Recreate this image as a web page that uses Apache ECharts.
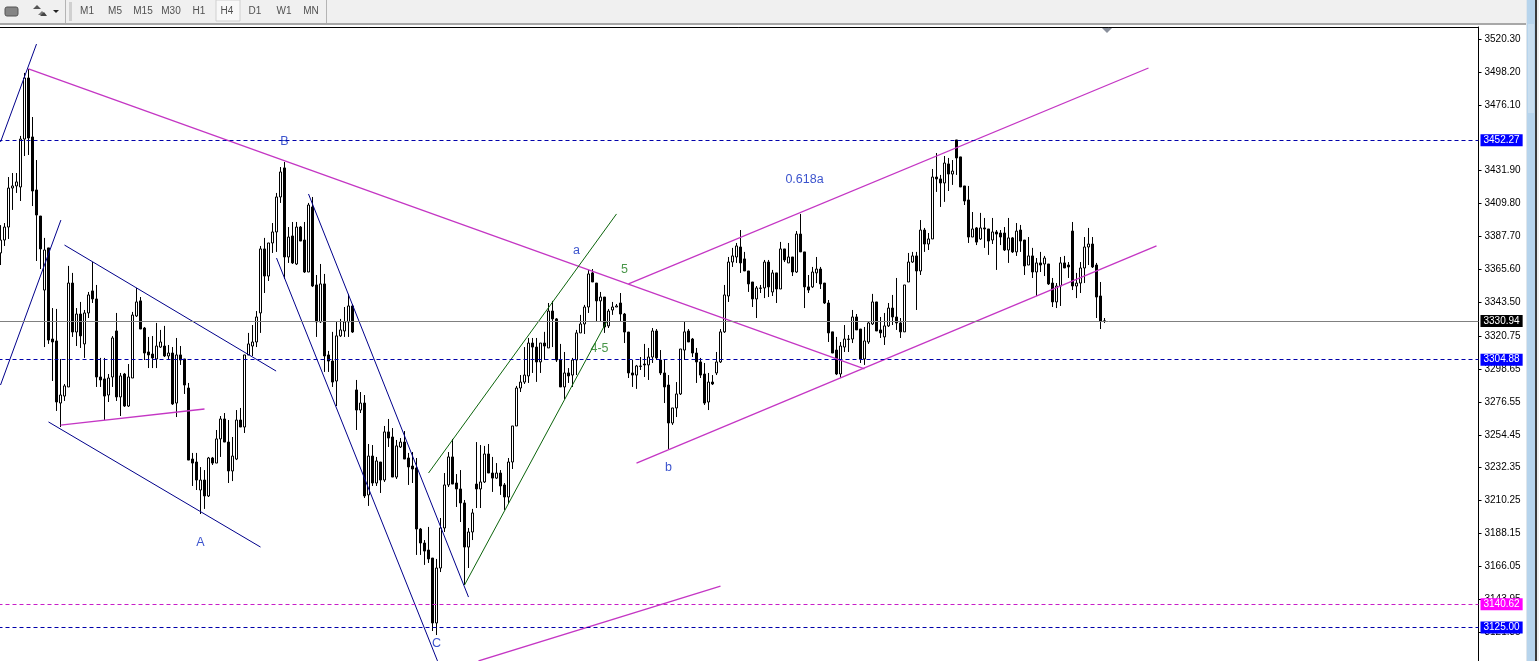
<!DOCTYPE html>
<html>
<head>
<meta charset="utf-8">
<title>H4 chart</title>
<script src="https://cdn.jsdelivr.net/npm/echarts@6/dist/echarts.min.js"></script>
<style>
html, body { margin: 0; padding: 0; background: #fff; overflow: hidden; }
#chart { width: 1539px; height: 661px; }
</style>
</head>
<body>
<div id="chart"></div>
<script>
// candles, one per bar, oldest first
var opens = [
  3376.6,3385.3,3394.0,3420.2,3421.6,3420.9,3453.1,3494.1,3454.5,3418.9,
  3401.4,3351.7,3380.0,3318.8,3317.5,3275.8,3280.5,3286.6,3356.4,3323.5,
  3335.6,3315.5,3336.3,3351.1,3345.7,3293.3,3292.0,3281.2,3293.3,3324.2,
  3279.9,3295.3,3273.8,3292.6,3334.3,3344.4,3326.2,3310.1,3308.7,3305.4,
  3313.4,3314.1,3307.4,3309.4,3275.8,3308.1,3305.4,3285.9,3238.2,3236.2,
  3217.4,3224.1,3213.4,3238.9,3235.5,3251.7,3265.1,3249.6,3230.2,3238.2,
  3264.4,3259.7,3308.1,3314.1,3316.8,3336.3,3379.3,3361.1,3383.3,3390.7,
  3414.2,3433.7,3373.9,3388.0,3369.2,3394.0,3385.3,3363.8,3407.5,3355.1,
  3330.3,3355.8,3308.1,3304.0,3290.6,3320.9,3324.2,3330.3,3341.0,3284.6,
  3271.1,3275.8,3214.1,3240.2,3222.1,3236.2,3224.1,3256.4,3253.0,3226.1,
  3246.3,3249.6,3238.9,3233.5,3232.2,3191.2,3181.8,3177.1,3171.7,3128.1,
  3165.0,3191.9,3220.8,3239.6,3222.1,3218.1,3208.7,3179.1,3189.2,3221.4,
  3218.1,3222.8,3241.6,3228.8,3225.4,3228.8,3220.8,3212.7,3236.2,3260.4,
  3285.9,3289.9,3294.0,3316.1,3313.4,3303.4,3316.1,3312.8,3337.6,3332.3,
  3304.7,3286.6,3296.0,3294.6,3304.7,3322.9,3328.9,3340.3,3363.2,3356.4,
  3344.4,3347.0,3327.6,3338.3,3340.3,3343.0,3335.6,3323.5,3296.0,3294.6,
  3300.4,3302.0,3301.4,3306.7,3324.2,3304.7,3296.0,3287.9,3262.4,3272.5,
  3281.9,3311.4,3324.2,3318.8,3309.4,3303.4,3295.3,3276.5,3289.9,3296.0,
  3303.4,3323.6,3347.7,3370.5,3373.9,3380.6,3372.6,3364.5,3357.1,3345.7,
  3352.8,3353.1,3370.5,3350.4,3363.2,3352.4,3379.3,3369.9,3373.9,3363.8,
  3389.3,3377.3,3353.8,3353.8,3363.2,3365.8,3356.4,3343.0,3323.6,3311.4,
  3295.3,3313.4,3318.5,3318.8,3333.6,3325.5,3305.4,3316.8,3328.9,3343.7,
  3324.9,3320.2,3327.6,3339.6,3333.6,3329.6,3323.6,3357.1,3370.5,3374.6,
  3364.5,3392.0,3382.6,3386.0,3427.6,3426.3,3423.6,3436.4,3429.6,3452.5,
  3441.1,3421.6,3412.2,3387.3,3393.4,3386.0,3393.4,3392.7,3385.3,3390.7,
  3390.0,3390.0,3378.6,3386.7,3377.3,3392.0,3385.3,3368.5,3374.6,3363.8,
  3369.9,3369.2,3369.2,3356.4,3343.7,3354.4,3369.9,3368.5,3391.3,3354.4,
  3356.4,3366.5,3380.6,3382.6,3368.5,3347.7,3330.9
];
var closes = [
  3385.3,3394.0,3420.2,3421.6,3424.3,3453.1,3494.1,3453.8,3418.2,3402.1,
  3379.3,3378.6,3318.1,3316.8,3276.5,3281.2,3287.3,3356.4,3323.5,3335.6,
  3320.9,3336.3,3348.4,3345.7,3293.3,3291.3,3280.5,3292.6,3319.5,3279.9,
  3294.0,3273.8,3293.3,3334.9,3343.7,3325.5,3309.4,3308.1,3306.1,3314.1,
  3316.8,3307.4,3309.4,3275.2,3308.1,3304.7,3287.9,3237.5,3235.5,3224.1,
  3224.1,3213.4,3238.9,3235.5,3251.7,3265.1,3249.6,3230.2,3240.2,3264.4,
  3259.7,3308.1,3315.5,3316.8,3333.6,3379.3,3361.1,3383.3,3390.7,3414.2,
  3431.0,3373.9,3387.3,3369.9,3394.0,3384.6,3363.8,3408.8,3354.4,3330.3,
  3355.8,3307.4,3304.0,3289.9,3320.9,3324.9,3330.3,3341.0,3323.5,3271.1,
  3275.8,3213.4,3240.2,3222.1,3236.9,3224.1,3256.4,3252.3,3226.1,3247.0,
  3249.6,3238.2,3232.9,3231.5,3191.2,3181.8,3176.4,3171.1,3128.1,3165.0,
  3191.9,3220.8,3239.6,3221.4,3218.1,3208.7,3179.1,3189.2,3202.0,3218.1,
  3222.8,3241.6,3228.8,3225.4,3228.8,3220.1,3212.7,3236.2,3260.4,3285.9,
  3289.9,3294.6,3316.1,3313.4,3303.4,3316.1,3314.1,3337.6,3332.3,3304.7,
  3286.6,3296.0,3294.0,3304.7,3322.9,3328.9,3340.3,3362.5,3357.1,3344.4,
  3347.0,3326.9,3337.6,3340.3,3341.0,3335.6,3323.5,3296.0,3294.6,3300.7,
  3300.7,3301.4,3306.7,3324.2,3306.1,3296.0,3286.6,3262.4,3272.5,3281.9,
  3312.1,3323.6,3316.8,3309.4,3303.4,3294.6,3275.8,3289.9,3288.6,3303.4,
  3323.6,3348.4,3370.5,3374.6,3381.3,3369.9,3364.5,3355.8,3345.7,3353.1,
  3353.1,3370.5,3353.8,3363.2,3352.4,3379.3,3371.9,3373.9,3363.8,3389.3,
  3377.3,3353.8,3351.7,3363.8,3365.8,3355.8,3343.0,3322.9,3309.4,3295.3,
  3314.1,3318.8,3318.8,3333.6,3324.9,3305.4,3317.5,3329.6,3343.7,3324.2,
  3322.9,3327.6,3339.6,3333.6,3329.6,3323.6,3355.1,3370.5,3374.6,3364.5,
  3392.0,3382.6,3386.0,3427.6,3426.3,3423.6,3437.0,3429.6,3431.6,3440.4,
  3420.9,3411.5,3387.3,3392.7,3383.9,3393.4,3392.7,3384.6,3390.7,3389.3,
  3387.3,3378.6,3386.7,3377.3,3391.3,3384.6,3367.9,3374.6,3363.8,3369.9,
  3368.5,3373.2,3355.8,3343.7,3354.4,3369.9,3366.5,3367.2,3354.4,3356.4,
  3366.5,3380.6,3382.6,3367.2,3347.0,3330.9,3330.94
];
var highs = [
  3395.3,3396.7,3427.6,3430.3,3430.3,3455.2,3497.5,3500.2,3467.9,3439.0,
  3401.4,3386.7,3380.0,3339.6,3339.0,3305.4,3288.6,3367.9,3363.2,3339.6,
  3343.7,3338.3,3350.4,3370.5,3355.1,3306.1,3306.1,3295.3,3320.8,3336.3,
  3296.0,3296.0,3302.0,3337.0,3353.1,3347.0,3326.9,3320.2,3320.8,3329.6,
  3324.9,3327.6,3314.8,3313.4,3319.5,3314.1,3305.4,3289.3,3242.3,3242.3,
  3232.8,3230.8,3239.6,3239.6,3257.7,3267.1,3269.1,3264.4,3253.0,3271.1,
  3272.5,3308.1,3322.9,3328.2,3337.6,3381.3,3386.7,3383.3,3396.7,3416.9,
  3434.3,3437.7,3394.0,3397.4,3397.4,3394.7,3397.4,3410.2,3414.2,3361.8,
  3369.2,3362.5,3310.8,3323.6,3330.3,3332.3,3340.3,3349.1,3342.3,3291.3,
  3283.2,3281.2,3248.3,3247.6,3239.6,3236.2,3260.4,3265.1,3259.0,3251.0,
  3252.3,3257.0,3242.3,3242.9,3238.9,3191.9,3183.8,3192.6,3171.7,3171.1,
  3198.6,3228.8,3242.9,3251.7,3228.1,3230.8,3210.7,3191.9,3204.7,3249.6,
  3247.6,3247.0,3248.3,3239.6,3235.5,3230.8,3222.1,3238.9,3260.4,3287.3,
  3294.6,3313.4,3319.5,3319.5,3319.5,3316.1,3323.6,3343.0,3344.4,3332.9,
  3315.5,3310.1,3299.3,3306.1,3324.9,3335.0,3341.7,3365.2,3365.8,3356.4,
  3350.4,3347.0,3339.0,3343.7,3342.3,3349.7,3336.3,3323.5,3304.7,3301.4,
  3306.7,3315.5,3312.8,3326.2,3325.5,3311.4,3304.7,3294.6,3272.5,3289.9,
  3312.1,3330.9,3325.5,3319.5,3312.8,3306.1,3302.7,3296.0,3294.6,3310.1,
  3325.5,3355.1,3373.9,3380.0,3383.3,3392.0,3377.3,3364.5,3357.1,3354.4,
  3355.1,3371.9,3371.9,3365.2,3363.2,3384.0,3379.3,3383.3,3373.9,3391.3,
  3402.8,3377.3,3361.8,3367.2,3373.9,3367.2,3356.4,3345.0,3323.6,3320.2,
  3316.8,3328.2,3321.5,3338.3,3335.6,3325.5,3326.9,3330.3,3349.1,3343.7,
  3333.6,3336.3,3343.0,3348.4,3359.8,3332.9,3355.1,3376.6,3377.3,3377.3,
  3398.7,3393.4,3390.0,3433.0,3443.7,3429.0,3441.7,3440.4,3439.0,3452.5,
  3441.1,3421.6,3421.6,3404.1,3394.0,3403.5,3400.1,3392.7,3400.1,3392.0,
  3392.0,3394.0,3400.1,3387.3,3396.7,3395.4,3385.3,3387.3,3380.0,3373.2,
  3377.3,3374.6,3369.2,3359.8,3356.4,3373.9,3374.6,3370.5,3397.4,3363.2,
  3370.5,3387.3,3393.4,3387.3,3369.9,3357.1,3332.9
];
var lows = [
  3368.5,3381.3,3386.0,3405.5,3416.9,3411.5,3441.7,3442.4,3408.1,3371.2,
  3365.8,3313.4,3315.5,3290.6,3270.5,3259.7,3277.2,3286.6,3320.2,3314.1,
  3312.8,3306.1,3332.9,3343.0,3286.6,3286.6,3264.4,3276.5,3286.6,3277.2,
  3267.1,3273.2,3273.2,3292.6,3333.6,3325.5,3304.7,3299.3,3299.3,3299.3,
  3312.8,3306.7,3305.4,3274.5,3266.4,3301.4,3281.9,3237.5,3220.1,3217.4,
  3201.3,3204.7,3212.7,3234.2,3235.5,3239.6,3249.6,3222.1,3223.4,3237.5,
  3259.7,3255.7,3308.1,3307.4,3313.4,3322.9,3349.7,3357.8,3376.6,3377.3,
  3410.2,3359.1,3369.9,3369.2,3368.5,3384.6,3363.2,3363.8,3353.7,3320.2,
  3329.6,3296.7,3296.7,3286.6,3273.8,3320.2,3320.2,3320.2,3322.9,3257.7,
  3269.1,3212.0,3206.7,3220.1,3220.1,3215.4,3222.8,3246.3,3226.1,3224.8,
  3245.6,3238.2,3220.8,3222.1,3173.8,3173.8,3167.1,3168.4,3122.7,3120.0,
  3162.3,3189.2,3219.4,3221.4,3206.0,3195.9,3153.6,3165.0,3183.8,3205.3,
  3205.3,3222.1,3228.8,3216.1,3224.8,3214.1,3204.0,3208.0,3231.5,3260.4,
  3283.2,3288.6,3289.3,3296.0,3290.0,3296.0,3304.7,3312.8,3313.4,3303.4,
  3286.6,3278.5,3289.3,3286.6,3294.6,3322.9,3322.2,3336.3,3357.1,3330.9,
  3330.9,3322.9,3326.2,3335.0,3340.3,3330.9,3316.1,3292.6,3286.6,3285.3,
  3298.0,3293.3,3291.3,3302.7,3304.7,3294.6,3275.8,3245.0,3261.1,3266.4,
  3281.2,3304.7,3316.8,3306.7,3289.3,3292.6,3274.5,3271.1,3287.9,3294.6,
  3302.7,3322.9,3343.7,3367.2,3369.9,3363.2,3364.5,3350.4,3340.3,3332.9,
  3349.7,3346.3,3347.0,3347.7,3343.0,3352.4,3370.5,3369.9,3361.1,3363.2,
  3377.3,3339.6,3349.7,3353.1,3356.4,3352.4,3342.3,3316.8,3309.4,3294.6,
  3292.6,3310.1,3310.1,3316.1,3324.9,3302.7,3301.4,3315.5,3328.2,3324.2,
  3319.5,3314.8,3326.9,3328.2,3324.9,3319.5,3323.6,3357.1,3369.9,3338.3,
  3361.8,3377.3,3378.6,3386.0,3417.6,3407.5,3410.9,3418.2,3422.3,3429.0,
  3420.9,3408.8,3383.3,3387.3,3381.9,3385.3,3380.0,3375.3,3382.6,3365.2,
  3381.9,3377.9,3369.9,3376.6,3374.6,3377.3,3361.8,3368.5,3359.8,3347.7,
  3363.8,3361.1,3355.1,3340.3,3339.6,3341.0,3366.5,3359.8,3351.7,3346.3,
  3349.7,3356.4,3368.5,3366.5,3332.9,3325.5,3329.6
];

// empty bars on the right of the last candle, chart shift area
var emptyBars = 93;

// the one that would sit under the 3452.27 tag is left out, it can't be seen there
var tickValues = [
  3520.30,3498.20,3476.10,3431.90,3409.80,3387.70,3365.60,3343.50,3320.75,
  3298.65,3276.55,3254.45,3232.35,3210.25,3188.15,3166.05,3143.95,3121.85
];

// horizontal levels: price, colour of the line, tag colour
var levelPrices = [3452.27, 3304.88, 3140.62, 3125.00];
var levelColors = ['#0000aa', '#0000aa', '#c81ec8', '#0000aa'];
var levelTagColors = ['#0000ff', '#0000ff', '#ff00ff', '#0000ff'];
var lastPrice = 3330.94;

// trend lines, ends given as [bar number, price]
var navyLines = [
  [[0, 3451.1], [9, 3516.9]],
  [[0, 3287.9], [15.1, 3398.7]],
  [[16, 3381.9], [68.9, 3297.3]],
  [[12, 3263.1], [65, 3179.1]],
  [[69, 3373.2], [109.25, 3102.6]],
  [[77, 3416.2], [117, 3145.5]]
];
var magentaLines = [
  [[15, 3261.0], [51, 3271.8]],
  [[7, 3500.2], [216, 3298.7]],
  [[157, 3355.8], [287, 3500.8]],
  [[159, 3235.5], [289, 3381.3]],
  [[119.5, 3102.6], [180, 3152.9]]
];
var greenLines = [
  [[107, 3228.8], [154, 3402.8]],
  [[116, 3153.6], [151.5, 3330.3]]
];

// wave labels
var noteTexts = ['A', 'B', 'C', 'a', 'b', '0.618a', '5', '4-5'];
var noteBars = [50, 71, 109, 144, 167, 201, 156, 149.75];
var notePrices = [3182.5, 3451.8, 3114.7, 3378.6, 3232.9, 3426.9, 3365.8, 3313.4];
var noteColors = ['#0a28c0', '#0a28c0', '#0a28c0', '#0a28c0', '#0a28c0', '#0a28c0', '#1c7c1c', '#1c7c1c'];

var timeframes = ['M1', 'M5', 'M15', 'M30', 'H1', 'H4', 'D1', 'W1', 'MN'];
var timeframeX = [87, 115, 143, 171, 199, 227, 255, 284, 311];

var FONT = '"Liberation Sans", Arial, sans-serif';

var barNames = [];
var candles = [];
for (var i = 0; i < opens.length + emptyBars; i++) {
  barNames.push(String(i + 1));
  if (i < opens.length) {
    candles.push([opens[i], closes[i], lows[i], highs[i]]);
  }
}

function trendSeries(lines, color, width) {
  return lines.map(function (pts) {
    return {
      type: 'line',
      xAxisIndex: 1,
      data: pts,
      symbol: 'none',
      silent: true,
      z: 4,
      lineStyle: { color: color, width: width }
    };
  });
}

function levelLine(price, color, tagColor, dashed) {
  return {
    yAxis: price,
    lineStyle: { color: color, width: 1, type: dashed ? [4, 3] : 'solid' },
    label: {
      show: true,
      position: 'end',
      distance: 2,
      formatter: price.toFixed(2),
      color: '#fff',
      backgroundColor: tagColor,
      fontFamily: FONT,
      fontSize: 10,
      padding: [1, 3, 1, 3]
    }
  };
}

var levelData = levelPrices.map(function (p, k) {
  return levelLine(p, levelColors[k], levelTagColors[k], true);
});
levelData.push(levelLine(lastPrice, '#808080', '#000', false));

var series = [{
  type: 'candlestick',
  data: candles,
  barWidth: 2,
  silent: true,
  z: 3,
  itemStyle: {
    color: '#fff',
    color0: '#000',
    borderColor: '#000',
    borderColor0: '#000',
    borderWidth: 1
  }
}, {
  // only carries the horizontal levels
  type: 'line',
  xAxisIndex: 1,
  data: [],
  z: 5,
  markLine: {
    silent: true,
    symbol: 'none',
    animation: false,
    data: levelData
  }
}, {
  type: 'scatter',
  xAxisIndex: 1,
  symbolSize: 1,
  silent: true,
  z: 6,
  itemStyle: { color: 'rgba(0,0,0,0)' },
  data: noteTexts.map(function (t, k) {
    return {
      value: [noteBars[k], notePrices[k]],
      label: {
        show: true,
        position: 'inside',
        offset: [0, 1],
        formatter: t,
        color: noteColors[k],
        fontFamily: FONT,
        fontSize: 12.5
      }
    };
  })
}];
series = series.concat(
  trendSeries(navyLines, '#00008b', 1),
  trendSeries(magentaLines, '#c436c4', 1.3),
  trendSeries(greenLines, '#0b640b', 1)
);

// terminal toolbar and the strip on the right
var toolbar = [
  { type: 'rect', shape: { x: 0, y: 0, width: 1527, height: 23 }, style: { fill: '#f0f0f0' } },
  { type: 'rect', shape: { x: 0, y: 23, width: 1527, height: 2 }, style: { fill: '#a8a8a8' } },
  { type: 'rect', shape: { x: 1527, y: 0, width: 8, height: 661 }, style: { fill: '#b7d4ec' } },
  { type: 'rect', shape: { x: 1528, y: 24, width: 6, height: 89 }, style: { fill: '#c9deef' } },
  { type: 'rect', shape: { x: 1526, y: 0, width: 1, height: 661 }, style: { fill: '#dfe6ec' } },
  { type: 'rect', shape: { x: 1535, y: 0, width: 2, height: 661 }, style: { fill: '#3a3a3a' } },
  { type: 'rect', shape: { x: 1537, y: 0, width: 2, height: 661 }, style: { fill: '#f0f0f0' } },
  { type: 'rect', shape: { x: 5, y: 7, width: 13, height: 9, r: 2 }, style: { fill: '#858585', stroke: '#555', lineWidth: 1 } },
  { type: 'polygon', shape: { points: [[37, 5], [41, 9], [33, 9]] }, style: { fill: '#555' } },
  { type: 'polygon', shape: { points: [[42, 11], [46, 15], [38, 15]] }, style: { fill: '#777' } },
  { type: 'polygon', shape: { points: [[40, 16], [44, 12], [47, 16]] }, style: { fill: '#444' } },
  { type: 'polygon', shape: { points: [[53, 10], [59, 10], [56, 13]] }, style: { fill: '#222' } },
  { type: 'rect', shape: { x: 65, y: 0, width: 1, height: 23 }, style: { fill: '#b4b4b4' } },
  { type: 'rect', shape: { x: 69, y: 2, width: 3, height: 19 }, style: { fill: '#d0d0d0' } },
  { type: 'rect', shape: { x: 216, y: 0, width: 24, height: 21 }, style: { fill: '#f8f8f8', stroke: '#d0d0d0', lineWidth: 1 } },
  { type: 'rect', shape: { x: 326, y: 0, width: 1, height: 23 }, style: { fill: '#b4b4b4' } },
  // chart shift marker
  { type: 'polygon', z: 20, shape: { points: [[1102, 28], [1112, 28], [1107, 33]] }, style: { fill: '#8a909c' } }
];
timeframes.forEach(function (t, k) {
  toolbar.push({
    type: 'text',
    x: timeframeX[k],
    y: 11.5,
    style: {
      text: t,
      fill: '#505050',
      font: '10px ' + FONT,
      textAlign: 'center',
      textVerticalAlign: 'middle'
    }
  });
});

var myChart = echarts.init(document.getElementById('chart'));
myChart.setOption({
  animation: false,
  backgroundColor: '#fff',
  grid: { left: -1.5, width: 1480, top: 27, bottom: 0, outerBoundsMode: 'none' },
  xAxis: [{
    type: 'category',
    position: 'top',
    data: barNames,
    axisLine: { show: true, lineStyle: { color: '#000', width: 1 } },
    axisTick: { show: false },
    axisLabel: { show: false },
    splitLine: { show: false }
  }, {
    // same bars as a number scale, for the lines drawn by hand on the chart
    type: 'value',
    show: false,
    min: -0.5,
    max: opens.length + emptyBars - 0.5,
    splitLine: { show: false }
  }],
  yAxis: {
    type: 'value',
    position: 'right',
    min: 3102.56,
    max: 3528.35,
    axisLine: { show: true, onZero: false, lineStyle: { color: '#000', width: 1 } },
    axisTick: { show: true, length: 3, customValues: tickValues, lineStyle: { color: '#000' } },
    axisLabel: {
      customValues: tickValues,
      margin: 6,
      color: '#000',
      fontFamily: FONT,
      fontSize: 10,
      formatter: function (v) { return v.toFixed(2); }
    },
    splitLine: { show: false }
  },
  series: series,
  graphic: toolbar
});
</script>
</body>
</html>
